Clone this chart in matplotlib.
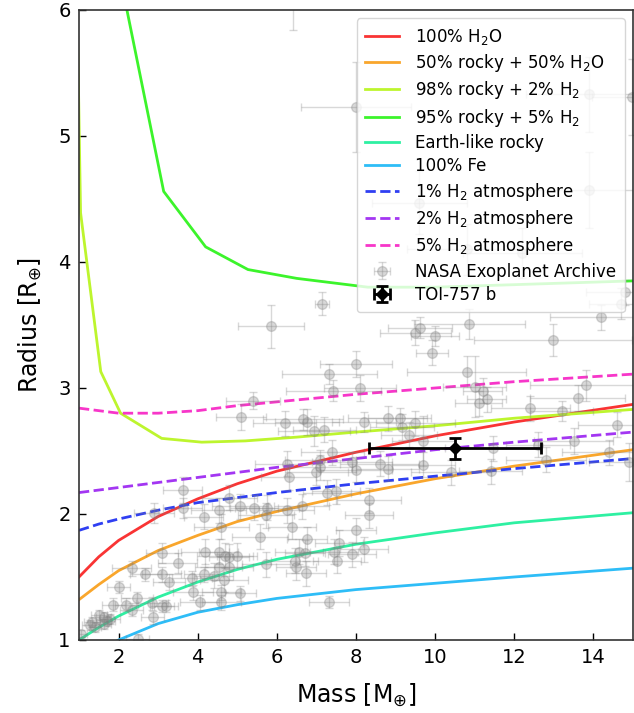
import numpy as np
import matplotlib
matplotlib.use("Agg")
import matplotlib.pyplot as plt

## Mass-radius diagram: composition models + NASA archive planets + TOI-757 b

# model curves (mass in Earth masses, radius in Earth radii)
model_mass = [1, 1.5, 2, 3, 4, 5, 6, 8, 10, 12, 15]
r_h2o = [1.50, 1.66, 1.79, 1.98, 2.12, 2.24, 2.34, 2.49, 2.62, 2.73, 2.87]
r_half_h2o = [1.32, 1.44, 1.55, 1.71, 1.83, 1.94, 2.02, 2.16, 2.28, 2.38, 2.51]
r_earth = [1.00, 1.10, 1.19, 1.34, 1.46, 1.56, 1.64, 1.76, 1.85, 1.93, 2.01]
r_fe = [0.80, 0.91, 1.00, 1.13, 1.22, 1.28, 1.33, 1.40, 1.45, 1.50, 1.57]
r_atm1 = [1.87, 1.92, 1.96, 2.03, 2.09, 2.13, 2.17, 2.24, 2.30, 2.36, 2.44]
r_atm2 = [2.17, 2.19, 2.21, 2.25, 2.29, 2.33, 2.37, 2.44, 2.51, 2.57, 2.65]
r_atm5 = [2.84, 2.82, 2.80, 2.80, 2.82, 2.86, 2.89, 2.95, 3.00, 3.05, 3.11]

h2_2_mass = [0.9, 1.04, 1.55, 2.05, 3.09, 4.1, 5.2, 6.5, 8, 10, 12, 15]
h2_2_rad = [7.0, 4.39, 3.13, 2.80, 2.60, 2.57, 2.58, 2.61, 2.65, 2.70, 2.76, 2.83]
h2_5_mass = [1.55, 2.05, 3.14, 4.2, 5.27, 6.5, 8.3, 10, 12, 15]
h2_5_rad = [9.5, 6.25, 4.56, 4.12, 3.94, 3.87, 3.80, 3.80, 3.82, 3.85]

# NASA Exoplanet Archive planets (mass, radius, mass err, radius err)
nasa_mass = [7.14, 5.85, 8.0, 6.4, 13.9, 14.97, 13.9, 9.6, 10.8, 12.2, 14.8, 14.7, 14.2,
             12.98, 10.86, 9.62, 9.5, 10.0, 9.92, 8.0, 7.32, 10.8, 7.42, 8.1, 11.0, 11.2,
             11.3, 11.1, 13.8, 13.6, 12.4, 13.2, 5.39, 5.1, 6.2, 6.66, 6.76, 6.94, 7.2,
             8.2, 8.8, 9.1, 9.5, 9.16, 9.34, 9.7, 11.45, 12.6, 13.5, 14.6, 14.4, 12.8,
             14.9, 7.4, 7.1, 7.9, 8.6, 8.8, 9.7, 7.0, 8.0, 10.4, 11.4, 6.26, 6.3, 7.1,
             7.27, 7.5, 8.33, 8.33, 8.0, 3.62, 2.89, 3.62, 4.8, 4.53, 5.07, 5.42, 5.75,
             6.25, 6.63, 4.15, 4.6, 5.73, 6.38, 5.57, 6.76, 3.09, 3.49, 2.33, 2.68, 3.09,
             3.27, 3.85, 4.15, 4.18, 4.53, 4.69, 4.79, 4.99, 4.53, 4.79, 4.4, 4.66, 5.72,
             6.45, 6.56, 6.71, 6.48, 6.74, 7.45, 7.52, 7.57, 7.9, 8.2, 3.88, 4.6, 5.08,
             4.05, 4.6, 2.0, 2.46, 1.87, 2.2, 2.33, 2.84, 3.09, 3.19, 2.86, 1.5, 1.62,
             1.78, 1.32, 1.27, 1.04, 1.62, 1.7, 1.4, 2.48, 7.32]
nasa_radius = [3.67, 3.49, 5.23, 6.3, 5.33, 5.31, 4.57, 4.47, 4.10, 4.07, 3.76, 3.67, 3.56,
               3.38, 3.51, 3.48, 3.44, 3.41, 3.28, 3.19, 3.11, 3.13, 2.98, 3.00, 3.01, 2.98,
               2.91, 2.88, 3.02, 2.92, 2.84, 2.82, 2.90, 2.77, 2.72, 2.75, 2.73, 2.66, 2.67,
               2.73, 2.76, 2.76, 2.72, 2.69, 2.63, 2.58, 2.52, 2.55, 2.58, 2.71, 2.49, 2.43,
               2.41, 2.49, 2.43, 2.41, 2.40, 2.36, 2.39, 2.33, 2.35, 2.33, 2.34, 2.40, 2.29, 2.37,
               2.17, 2.18, 2.11, 1.99, 1.87, 2.19, 2.01, 2.05, 2.13, 2.03, 2.06, 2.05, 2.05,
               2.03, 2.06, 1.98, 1.90, 1.99, 1.90, 1.82, 1.80, 1.69, 1.61, 1.57, 1.52, 1.52,
               1.46, 1.49, 1.52, 1.70, 1.70, 1.67, 1.66, 1.67, 1.58, 1.58, 1.51, 1.48, 1.60,
               1.63, 1.70, 1.69, 1.58, 1.53, 1.70, 1.63, 1.77, 1.68, 1.72, 1.38, 1.38, 1.37,
               1.30, 1.30, 1.42, 1.33, 1.28, 1.28, 1.24, 1.29, 1.27, 1.27, 1.18, 1.20, 1.18,
               1.17, 1.14, 1.12, 1.05, 1.13, 1.15, 1.10, 1.01, 1.30]
nasa_mass_err = [0.17, 0.84, 1.4, 0.5, 1.6, 1.0, 1.8, 1.2, 1.5, 1.5, 1.0, 0.8, 1.3,
                 2.0, 1.4, 0.8, 0.9, 0.6, 0.4, 0.9, 1.2, 1.5, 1.2, 0.9, 0.8, 0.5,
                 0.5, 0.6, 1.4, 1.2, 1.0, 0.8, 0.68, 0.63, 0.8, 1.0, 0.8, 0.9, 0.8,
                 0.8, 1.0, 0.8, 1.0, 0.8, 0.7, 0.8, 1.2, 0.8, 1.0, 1.0, 1.2, 1.0,
                 1.0, 0.8, 0.9, 1.0, 1.0, 0.8, 0.8, 0.8, 0.9, 1.0, 0.8, 0.8, 0.7, 0.8,
                 0.6, 0.6, 0.8, 0.6, 0.5, 0.5, 0.5, 0.5, 0.7, 0.7, 0.7, 0.6, 0.8,
                 0.7, 0.7, 0.5, 0.7, 0.7, 0.6, 0.7, 0.5, 0.4, 0.5, 0.5, 0.4, 0.5,
                 0.4, 0.5, 0.5, 0.6, 0.5, 0.7, 0.5, 0.5, 0.6, 0.6, 0.5, 0.6, 0.6,
                 0.6, 0.6, 0.5, 0.5, 0.5, 0.6, 0.6, 0.6, 0.6, 0.6, 0.5, 0.5, 0.4,
                 0.5, 0.5, 0.3, 0.4, 0.3, 0.3, 0.3, 0.4, 0.3, 0.3, 0.3, 0.2, 0.2,
                 0.25, 0.2, 0.2, 0.15, 0.2, 0.2, 0.15, 0.3, 0.5]
nasa_radius_err = [0.09, 0.17, 0.36, 0.46, 0.3, 0.3, 0.3, 0.25, 0.2, 0.2, 0.1, 0.12, 0.1,
                   0.13, 0.12, 0.08, 0.1, 0.08, 0.1, 0.1, 0.08, 0.12, 0.08, 0.1, 0.24, 0.1,
                   0.1, 0.1, 0.12, 0.1, 0.1, 0.08, 0.07, 0.1, 0.1, 0.08, 0.1, 0.12, 0.1,
                   0.08, 0.1, 0.08, 0.1, 0.1, 0.1, 0.2, 0.1, 0.1, 0.1, 0.1, 0.1, 0.1,
                   0.15, 0.1, 0.08, 0.08, 0.1, 0.1, 0.1, 0.1, 0.1, 0.1, 0.1, 0.1, 0.1, 0.1,
                   0.1, 0.1, 0.1, 0.1, 0.1, 0.1, 0.08, 0.08, 0.1, 0.1, 0.1, 0.1, 0.1,
                   0.1, 0.1, 0.1, 0.1, 0.1, 0.1, 0.1, 0.1, 0.08, 0.08, 0.06, 0.05, 0.06,
                   0.06, 0.06, 0.06, 0.1, 0.1, 0.1, 0.1, 0.1, 0.1, 0.1, 0.1, 0.1, 0.1,
                   0.1, 0.1, 0.1, 0.1, 0.1, 0.1, 0.1, 0.1, 0.1, 0.1, 0.06, 0.06, 0.06,
                   0.06, 0.06, 0.05, 0.05, 0.05, 0.05, 0.05, 0.05, 0.05, 0.05, 0.05, 0.04, 0.04,
                   0.04, 0.04, 0.04, 0.03, 0.04, 0.04, 0.04, 0.04, 0.05]

# TOI-757 b
toi_mass = 10.5
toi_mass_err = 2.17
toi_radius = 2.52
toi_radius_err = 0.08

fig = plt.figure(figsize=(6.34, 7.13), dpi=100)
ax = fig.add_axes([0.1246, 0.1024, 0.8738, 0.8836])

## model curves
ax.plot(model_mass, r_h2o, c='#f93434', lw=2, label='100% H$_2$O')
ax.plot(model_mass, r_half_h2o, c='#f9a62c', lw=2, label='50% rocky + 50% H$_2$O')
ax.plot(h2_2_mass, h2_2_rad, c='#bdf52e', lw=2, label='98% rocky + 2% H$_2$')
ax.plot(h2_5_mass, h2_5_rad, c='#3cf42b', lw=2, label='95% rocky + 5% H$_2$')
ax.plot(model_mass, r_earth, c='#2ef0a2', lw=2, label='Earth-like rocky')
ax.plot(model_mass, r_fe, c='#2ebdf7', lw=2, label='100% Fe')
ax.plot(model_mass, r_atm1, c='#2f3ff2', lw=2, ls='--', label='1% H$_2$ atmosphere')
ax.plot(model_mass, r_atm2, c='#a336f2', lw=2, ls='--', label='2% H$_2$ atmosphere')
ax.plot(model_mass, r_atm5, c='#f736c9', lw=2, ls='--', label='5% H$_2$ atmosphere')

## archive planets
ax.errorbar(nasa_mass, nasa_radius, xerr=nasa_mass_err, yerr=nasa_radius_err,
            fmt='o', color='gray', ms=7, alpha=0.3, elinewidth=1, capsize=3,
            label='NASA Exoplanet Archive')

## our planet
ax.errorbar([toi_mass], [toi_radius], xerr=[toi_mass_err], yerr=[toi_radius_err],
            fmt='D', color='black', ms=6, elinewidth=2, capsize=4, capthick=2,
            zorder=10, label='TOI-757 b')

## axes formatting
ax.set_xlim(1, 15)
ax.set_ylim(1, 6)
ax.set_xticks([2, 4, 6, 8, 10, 12, 14])
ax.set_yticks([1, 2, 3, 4, 5, 6])
ax.tick_params(direction='in', length=5, width=1, labelsize=14, pad=6)
ax.set_xlabel('Mass [M$_{\\oplus}$]', fontsize=17, labelpad=10)
ax.set_ylabel('Radius [R$_{\\oplus}$]', fontsize=17, labelpad=10)
for sp in ax.spines.values():
    sp.set_linewidth(1.2)
    sp.set_color('#333333')

ax.legend(loc='upper right', fontsize=12, labelspacing=0.32, handletextpad=1.0,
          borderpad=0.5)

fig.savefig('out.png', dpi=100)
